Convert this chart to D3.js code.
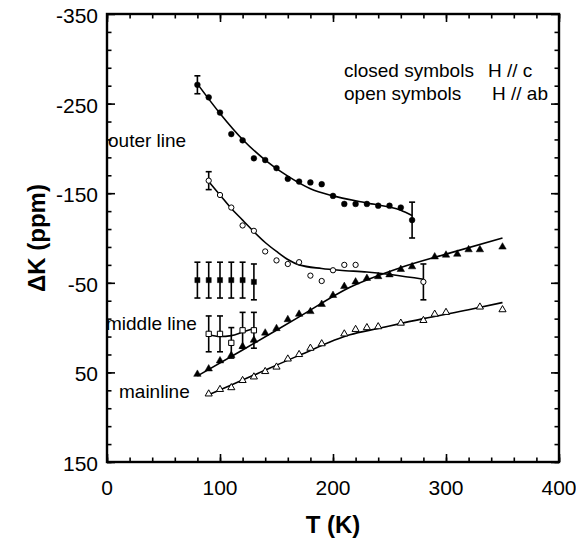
<!DOCTYPE html>
<html>
<head>
<meta charset="utf-8">
<script src="https://cdn.jsdelivr.net/npm/d3@7"></script>
<style>
  body { margin: 0; background: #fff; }
  text { font-family: Arial, "Liberation Sans", Helvetica, sans-serif; fill: #000; }
</style>
</head>
<body>
<svg id="chart" width="576" height="541"></svg>
<script>
// ============= Data =============

// outer line, H // c (closed circles)
const outerCT = [80, 90, 100, 110, 120, 130, 140, 150, 160, 170, 180, 190, 200, 210, 220, 230, 240, 250, 260, 270];
const outerCK = [-271, -257, -240, -216, -209, -189, -187, -178, -166, -163, -162, -160, -147, -138, -138, -138, -136, -136, -134, -120];
const outerCFitT = [80, 100, 120, 140, 160, 180, 200, 230, 260, 270];
const outerCFitK = [-272, -239, -210, -187, -169, -155, -147, -139, -131, -125];

// outer line, H // ab (open circles)
const outerAbT = [90, 100, 110, 120, 130, 140, 150, 160, 170, 180, 190, 200, 210, 220, 280];
const outerAbK = [-164, -148, -134, -114, -108, -85, -75, -71, -73, -58, -52, -64, -70, -70, -51];
const outerAbFitT = [90, 100, 110, 120, 130, 140, 150, 160, 170, 190, 206, 230, 280];
const outerAbFitK = [-163, -148, -133, -120, -107, -95, -85, -76, -70, -66, -64, -62, -54];

// middle line (squares with error bars)
const middleCT = [80, 90, 100, 110, 120, 130];
const middleCK = [-53, -53, -53, -53, -53, -51];
const middleCErr = [20, 20, 20, 20, 20, 20];
const middleAbT = [90, 100, 110, 120, 130];
const middleAbK = [7, 7, 17, 3, 3];
const middleAbErr = [20, 20, 17, 20, 20];
const middleAbFitT = [90, 100, 110, 120, 130];
const middleAbFitK = [8, 10, 9, 5, 1];

// mainline, H // c (closed triangles)
const mainCT = [80, 90, 100, 110, 120, 130, 140, 150, 160, 170, 180, 190, 200, 210, 220, 230, 240, 250, 260, 270, 290, 300, 310, 320, 330, 350];
const mainCK = [52, 46, 37, 31, 21, 14, 6, 1, -9, -15, -18, -26, -36, -46, -51, -55, -57, -59, -65, -68, -79, -81, -82, -87, -87, -90];
const mainCFitT = [80, 120, 170, 215, 260, 300, 350];
const mainCFitK = [54, 25, -12, -45, -67, -82, -100];

// mainline, H // ab (open triangles)
const mainAbT = [90, 100, 110, 120, 130, 140, 150, 160, 170, 180, 190, 210, 220, 230, 240, 260, 280, 290, 300, 330, 350];
const mainAbK = [74, 69, 67, 59, 55, 49, 44, 35, 30, 23, 18, 7, 2, 0, -1, -5, -8, -15, -17, -23, -20];
const mainAbFitT = [90, 130, 170, 215, 240, 280, 320, 350];
const mainAbFitK = [75, 53, 31, 8, 1, -10, -20, -28];

// separate error bars on the end points of the outer lines
const endBarT = [80, 270, 90, 280];
const endBarK = [-271, -120, -164, -51];
const endBarErr = [10, 20, 10, 20];

const xTicks = [0, 100, 200, 300, 400];
const yTicks = [-350, -250, -150, -50, 50, 150];

// ============= Layout =============

const svg = d3.select('#chart');
const margin = { top: 14, right: 17, bottom: 79, left: 107 };
const width = 576, height = 541;

const x = d3.scaleLinear().domain([0, 400]).range([margin.left, width - margin.right]);
const y = d3.scaleLinear().domain([-350, 150]).range([margin.top, height - margin.bottom]);

const zip = (a, b) => a.map((v, i) => [v, b[i]]);

// ============= Axes (ticks point inward) =============

function tickAxis(axisFn, scale, vals, size, pos) {
  const g = svg.append('g')
    .attr('transform', pos)
    .call(axisFn(scale).tickValues(vals).tickSize(size).tickFormat(''));
  g.select('.domain').remove();
  g.selectAll('.tick line').attr('stroke', '#000').attr('stroke-width', 1.6);
  return g;
}

// x: minor every 20, major every 100
const xMinor = d3.range(0, 401, 20);
tickAxis(d3.axisBottom, x, xMinor, -4.5, `translate(0,${y(150)})`);
tickAxis(d3.axisBottom, x, xTicks, -8, `translate(0,${y(150)})`);
tickAxis(d3.axisTop, x, xMinor, -4.5, `translate(0,${y(-350)})`);
tickAxis(d3.axisTop, x, xTicks, -8, `translate(0,${y(-350)})`);
// y: minor every 20, major every 100
const yMinor = d3.range(-330, 151, 20);
tickAxis(d3.axisLeft, y, yMinor, -4.5, `translate(${x(0)},0)`);
tickAxis(d3.axisLeft, y, yTicks, -8, `translate(${x(0)},0)`);
tickAxis(d3.axisRight, y, yMinor, -4.5, `translate(${x(400)},0)`);
tickAxis(d3.axisRight, y, yTicks, -8, `translate(${x(400)},0)`);

svg.append('rect')
  .attr('x', x(0)).attr('y', y(-350))
  .attr('width', x(400) - x(0)).attr('height', y(150) - y(-350))
  .attr('fill', 'none').attr('stroke', '#000').attr('stroke-width', 2.4);

svg.append('g').selectAll('text')
  .data(xTicks)
  .join('text')
  .attr('x', d => x(d))
  .attr('y', y(150) + 33)
  .attr('text-anchor', 'middle')
  .style('font-size', '21px')
  .text(d => d);

svg.append('g').selectAll('text')
  .data(yTicks)
  .join('text')
  .attr('x', x(0) - 9)
  .attr('y', d => y(d) + 9)
  .attr('text-anchor', 'end')
  .style('font-size', '21px')
  .text(d => d);

svg.append('text')
  .attr('x', (x(0) + x(400)) / 2)
  .attr('y', 533)
  .attr('text-anchor', 'middle')
  .style('font-size', '24px').style('font-weight', 'bold')
  .text('T (K)');

svg.append('text')
  .attr('transform', `translate(45,${(y(-350) + y(150)) / 2}) rotate(-90)`)
  .attr('text-anchor', 'middle')
  .style('font-size', '24px').style('font-weight', 'bold')
  .text('\u0394K (ppm)');

// ============= Fit curves =============

const line = d3.line().x(d => x(d[0])).y(d => y(d[1])).curve(d3.curveMonotoneX);
[
  zip(outerCFitT, outerCFitK),
  zip(outerAbFitT, outerAbFitK),
  zip(middleAbFitT, middleAbFitK),
  zip(mainCFitT, mainCFitK),
  zip(mainAbFitT, mainAbFitK)
].forEach(pts => {
  svg.append('path')
    .attr('d', line(pts))
    .attr('fill', 'none')
    .attr('stroke', '#000')
    .attr('stroke-width', 1.6);
});

// ============= Error bars =============

function errorBars(ts, ks, es) {
  const g = svg.append('g').attr('stroke', '#000').attr('stroke-width', 1.6);
  ts.forEach((t, i) => {
    const cx = x(t), y0 = y(ks[i] - es[i]), y1 = y(ks[i] + es[i]);
    g.append('line').attr('x1', cx).attr('x2', cx).attr('y1', y0).attr('y2', y1);
    g.append('line').attr('x1', cx - 3).attr('x2', cx + 3).attr('y1', y0).attr('y2', y0);
    g.append('line').attr('x1', cx - 3).attr('x2', cx + 3).attr('y1', y1).attr('y2', y1);
  });
}
errorBars(middleCT, middleCK, middleCErr);
errorBars(middleAbT, middleAbK, middleAbErr);
errorBars(endBarT, endBarK, endBarErr);

// ============= Symbols =============

function symbols(ts, ks, type, size, filled) {
  svg.append('g').selectAll('path')
    .data(zip(ts, ks))
    .join('path')
    .attr('transform', d => `translate(${x(d[0])},${y(d[1])})`)
    .attr('d', d3.symbol().type(type).size(size))
    .attr('fill', filled ? '#000' : '#fff')
    .attr('stroke', '#000')
    .attr('stroke-width', filled ? 0.5 : 1);
}
symbols(outerCT, outerCK, d3.symbolCircle, 26, true);
symbols(outerAbT, outerAbK, d3.symbolCircle, 22, false);
symbols(middleCT, middleCK, d3.symbolSquare, 26, true);
symbols(middleAbT, middleAbK, d3.symbolSquare, 28, false);
symbols(mainCT, mainCK, d3.symbolTriangle, 24, true);
symbols(mainAbT, mainAbK, d3.symbolTriangle, 22, false);

// ============= Annotations =============

const notes = [
  ['outer line', 108, 147],
  ['middle line', 106, 330],
  ['mainline', 119, 398],
  ['closed symbols', 344, 77],
  ['H // c', 488, 77],
  ['open symbols', 344, 100],
  ['H // ab', 492, 100]
];
svg.append('g').selectAll('text')
  .data(notes)
  .join('text')
  .attr('x', d => d[1])
  .attr('y', d => d[2])
  .style('font-size', '19px')
  .text(d => d[0]);
</script>
</body>
</html>
